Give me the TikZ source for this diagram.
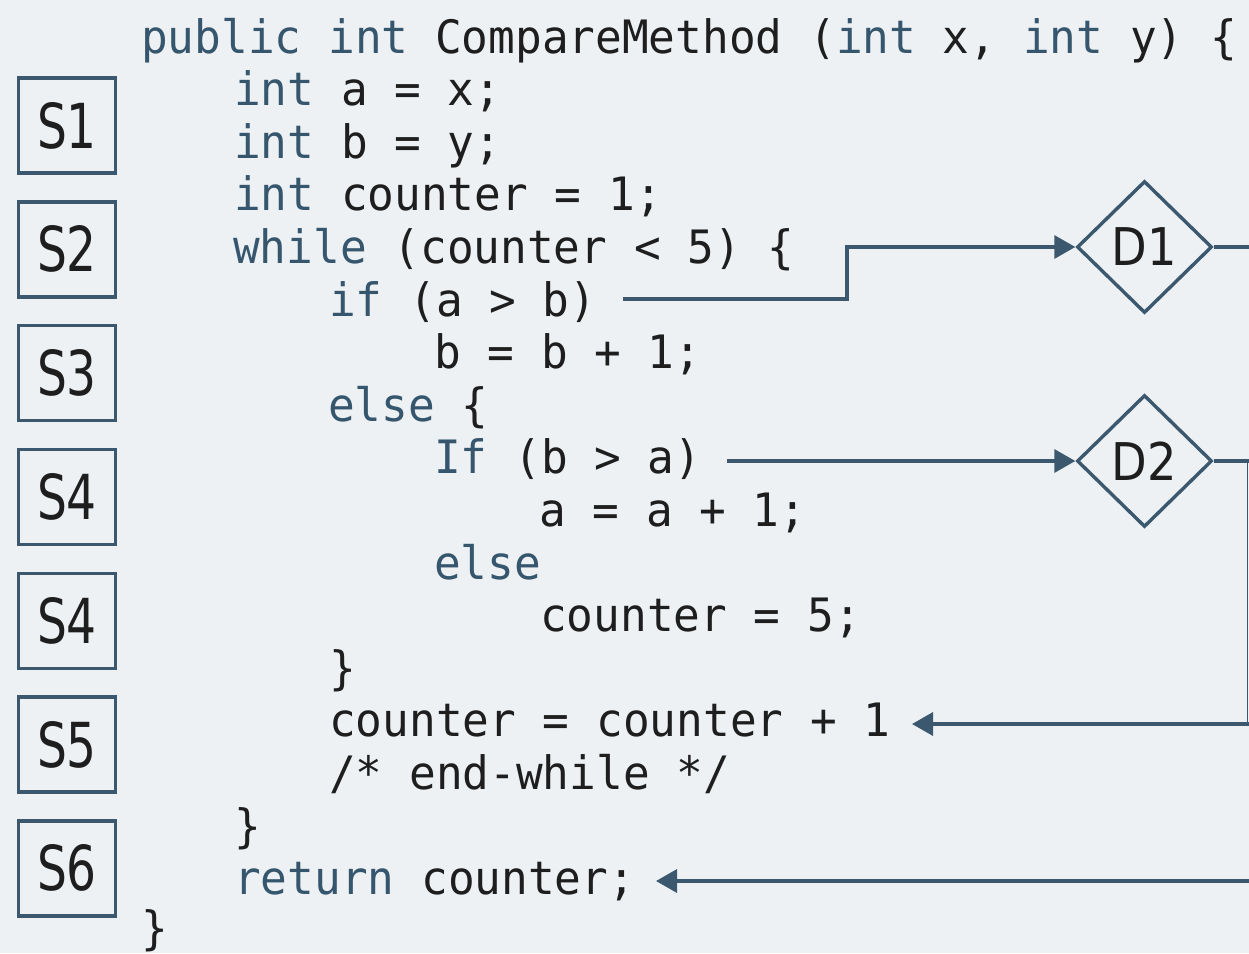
\documentclass[tikz,border=0pt]{standalone}
\usepackage{fontspec}
\usetikzlibrary{shapes.geometric,arrows.meta,calc}
\newfontfamily\codefont[FakeStretch=0.965]{DejaVu Sans Mono}
\newfontfamily\boxfont[FakeStretch=0.76]{DejaVu Sans}
\newfontfamily\diafont[FakeStretch=0.89]{DejaVu Sans}
\definecolor{bgcol}{HTML}{EDF1F4}
\definecolor{slate}{HTML}{3C586E}
\definecolor{kwcol}{HTML}{36566E}
\definecolor{ink}{HTML}{1E1E1E}
\newcommand{\kw}[1]{\textcolor{kwcol}{#1}}
\tikzset{
  codeline/.style={anchor=base west, inner sep=0pt, text=ink,
    font=\codefont\fontsize{46}{50}\selectfont},
  sbox/.style={draw=slate, line width=3.4pt, minimum width=97pt, minimum height=95pt,
    inner sep=0pt, text=ink, font=\boxfont\fontsize{62}{64}\selectfont},
  dbox/.style={diamond, aspect=1, draw=slate, line width=3.4pt, minimum width=135pt,
    minimum height=132pt, inner sep=0pt, text=ink, font=\diafont\fontsize{52}{56}\selectfont},
  conn/.style={draw=slate, line width=3.4pt},
  arr/.style={conn, -{Triangle[length=21pt,width=23pt]}},
  thin/.style={draw=slate, line width=1.6pt}
}
\begin{document}
\begin{tikzpicture}[x=1pt,y=-1pt]
\useasboundingbox (0,0) rectangle (1249,953);
\fill[bgcol] (0,0) rectangle (1249,953);

% statement boxes
\foreach \lab [count=\i from 0] in {S1,S2,S3,S4,S4,S5,S6}
  \node[sbox] (s\i) at (67,125.5+123.8*\i) {\lab};

% source code, one node per line
\node[codeline] (L0)  at (141,53.0)  {\kw{public} \kw{int} CompareMethod (\kw{int} x, \kw{int} y) \{};
\node[codeline] (L1)  at (234,105.6) {\kw{int} a = x;};
\node[codeline] (L2)  at (234,158.2) {\kw{int} b = y;};
\node[codeline] (L3)  at (234,210.8) {\kw{int} counter = 1;};
\node[codeline] (L4)  at (233,263.4) {\kw{while} (counter < 5) \{};
\node[codeline] (L5)  at (329,316.0) {\kw{if} (a > b)};
\node[codeline] (L6)  at (434,368.6) {b = b + 1;};
\node[codeline] (L7)  at (328,421.2) {\kw{else} \{};
\node[codeline] (L8)  at (434,473.8) {\kw{If} (b > a)};
\node[codeline] (L9)  at (539,526.4) {a = a + 1;};
\node[codeline] (L10) at (434,579.0) {\kw{else}};
\node[codeline] (L11) at (540,631.6) {counter = 5;};
\node[codeline] (L12) at (329,684.2) {\}};
\node[codeline] (L13) at (329,736.8) {counter = counter + 1};
\node[codeline] (L14) at (329,789.4) {/* end-while */};
\node[codeline] (L15) at (234,842.0) {\}};
\node[codeline] (L16) at (234,894.6) {\kw{return} counter;};
\node[codeline] (L17) at (141,944.0) {\}};

% decision nodes
\node[dbox] (D1) at (1144.5,247) {D1};
\node[dbox] (D2) at (1144.5,461) {D2};

% connector end points
\coordinate (ifa)  at (623,299);
\coordinate (step) at (847,299);
\coordinate (ifb)  at (727,461);
\coordinate (r1)   at (1249,247);
\coordinate (r2)   at (1249,461);
\coordinate (v2)   at (1247.5,461);
\coordinate (v3)   at (1247.5,724);
\coordinate (r3)   at (1249,724);
\coordinate (inc)  at (912,724);
\coordinate (r4)   at (1249,881);
\coordinate (ret)  at (656,881);

% connectors
\draw[arr] (ifa) -- (step) |- (D1.west);
\draw[arr] (ifb) -- (D2.west);
\draw[conn] (D1.east) -- (r1);
\draw[conn] (D2.east) -- (r2);
\draw[thin] (v2) -- (v3);
\draw[arr] (r3) -- (inc);
\draw[arr] (r4) -- (ret);
\end{tikzpicture}
\end{document}
